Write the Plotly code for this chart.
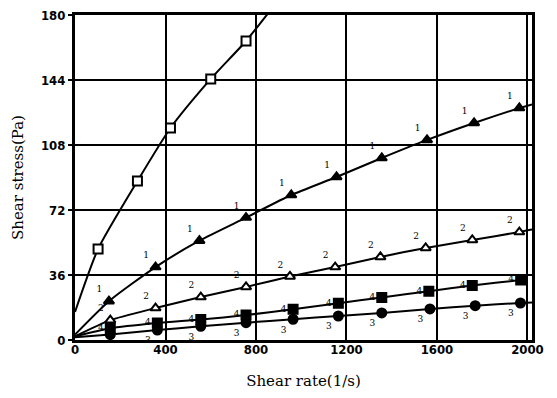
import plotly.graph_objects as go

# Series (shear rate in 1/s, shear stress in Pa)
x1 = [0, 102, 276, 422, 600, 756, 860]
y1 = [15.5, 50.4, 88.0, 117.4, 144.6, 165.6, 182.0]

x2 = [0, 150, 356, 550, 756, 956, 1156, 1356, 1556, 1764, 1964, 2020]
y2 = [3.0, 21.5, 40.4, 55.0, 67.8, 80.3, 90.3, 100.8, 110.8, 120.2, 128.5, 130.5]

x3 = [0, 156, 356, 556, 756, 950, 1150, 1350, 1550, 1756, 1964, 2020]
y3 = [2.0, 11.0, 17.7, 23.8, 29.4, 35.2, 40.4, 46.0, 51.0, 55.4, 59.8, 61.2]

x4 = [0, 156, 364, 556, 756, 964, 1164, 1356, 1564, 1756, 1970, 1985]
y4 = [2.0, 6.5, 9.4, 11.3, 13.8, 17.0, 20.3, 23.6, 27.0, 30.2, 33.2, 33.4]

x5 = [0, 156, 364, 556, 756, 964, 1164, 1356, 1569, 1769, 1969, 2020]
y5 = [1.5, 3.0, 5.5, 7.6, 9.6, 11.5, 13.3, 15.0, 17.2, 19.0, 20.5, 20.8]

labels = ["", "1", "2", "4", "3"]
x_ticks = [0, 400, 800, 1200, 1600, 2000]
y_ticks = [0, 36, 72, 108, 144, 180]

series = [
    (x1, y1, "square", "white", labels[0], "top left"),
    (x2, y2, "triangle-up", "black", labels[1], "top left"),
    (x3, y3, "triangle-up", "white", labels[2], "top left"),
    (x4, y4, "square", "black", labels[3], "middle left"),
    (x5, y5, "circle", "black", labels[4], "bottom left"),
]

fig = go.Figure()
for xs, ys, sym, fill, lab, tpos in series:
    fig.add_trace(go.Scatter(
        x=xs, y=ys, mode="lines",
        line=dict(color="black", width=2, shape="spline", smoothing=0.6),
        hoverinfo="skip", showlegend=False, cliponaxis=True))
    mx = xs[1:-1]
    my = ys[1:-1]
    fig.add_trace(go.Scatter(
        x=mx, y=my, mode="markers+text" if lab else "markers",
        marker=dict(symbol=sym, size=9, color=fill,
                    line=dict(color="black", width=2)),
        text=([lab] * len(mx)) if lab else None,
        textposition=tpos,
        textfont=dict(family="DejaVu Serif", size=9, color="black"),
        showlegend=False, cliponaxis=True))

tickfont = dict(family="DejaVu Sans Condensed, sans-serif",
                size=13, color="black", weight="bold")
titlefont = dict(family="DejaVu Serif, Liberation Serif, serif", size=15, color="black")

# page body has an 8px margin; margins below compensate so the plot area
# lands at x 75..532, y 15..339 of the window
fig.update_layout(
    width=557, height=398,
    margin=dict(l=67, r=33, t=7, b=66),
    paper_bgcolor="white", plot_bgcolor="white",
    showlegend=False,
    xaxis=dict(
        range=[0, 2020], tickvals=x_ticks, ticktext=[str(v) for v in x_ticks],
        showgrid=True, gridcolor="black", gridwidth=1.5,
        showline=True, linecolor="black", linewidth=3, mirror=True,
        ticks="inside", ticklen=6, tickcolor="black", tickwidth=1.5,
        tickfont=tickfont, zeroline=False, automargin=False,
        ticklabelstandoff=-5, ticklabeloverflow="allow",
        title=dict(text="Shear rate(1/s)", font=titlefont, standoff=20),
    ),
    yaxis=dict(
        range=[0, 180], tickvals=y_ticks, ticktext=[str(v) for v in y_ticks],
        showgrid=True, gridcolor="black", gridwidth=1.5,
        showline=True, linecolor="black", linewidth=3, mirror=True,
        ticks="outside", ticklen=4, tickcolor="black", tickwidth=1.5,
        tickfont=tickfont, zeroline=False, automargin=False,
        ticklabeloverflow="allow",
        title=dict(text="Shear stress(Pa)", font=titlefont, standoff=14),
    ),
)

fig.write_html("out.html")
